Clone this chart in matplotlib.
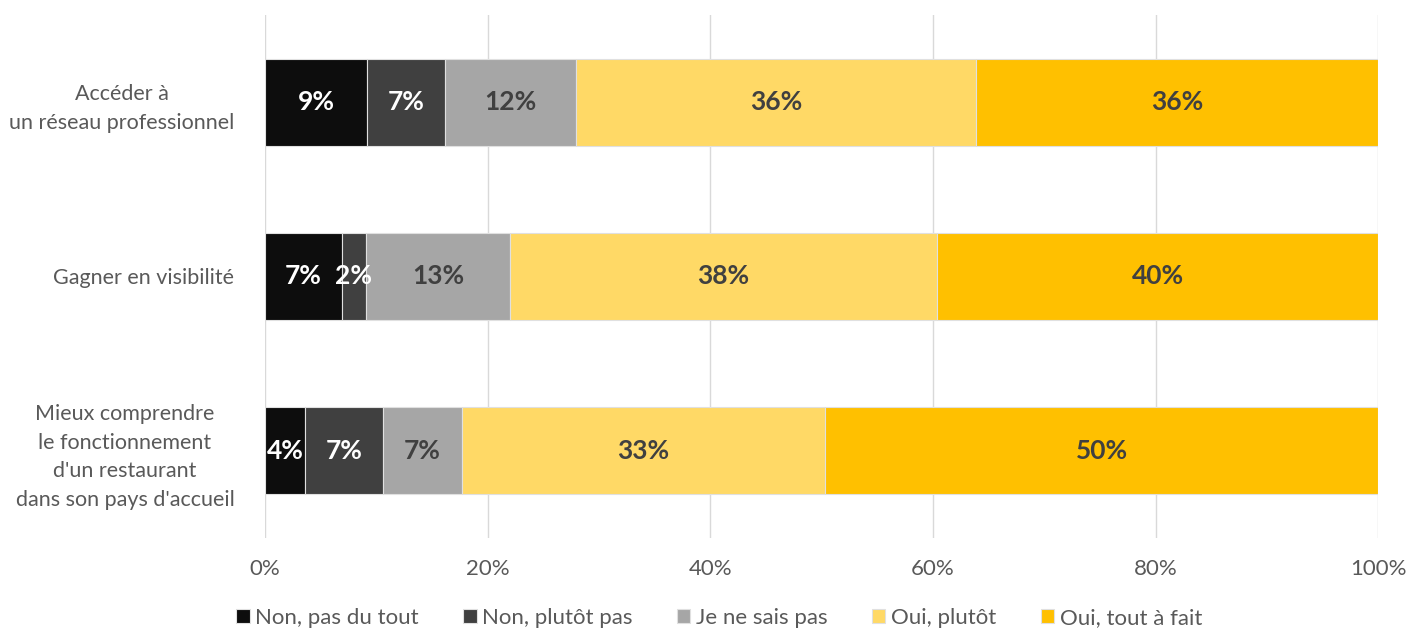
import matplotlib
matplotlib.use('Agg')
import matplotlib.pyplot as plt
import numpy as np

# --- DATA ---
CATEGORIES = [
    "Accéder à\nun réseau professionnel",
    "Gagner en visibilité",
    "Mieux comprendre\nle fonctionnement\nd'un restaurant\ndans son pays d'accueil",
]
SERIES = ["Non, pas du tout", "Non, plutôt pas", "Je ne sais pas", "Oui, plutôt", "Oui, tout à fait"]
# shares in percent, rows follow CATEGORIES
non_pas_du_tout = [9.2, 6.9, 3.6]
non_plutot_pas = [7.0, 2.2, 7.0]
je_ne_sais_pas = [11.7, 12.9, 7.1]
oui_plutot = [36.0, 38.4, 32.6]
oui_tout_a_fait = [36.1, 39.6, 49.7]
# labels as printed on the chart
LABELS = [
    ["9%", "7%", "4%"],
    ["7%", "2%", "7%"],
    ["12%", "13%", "7%"],
    ["36%", "38%", "33%"],
    ["36%", "40%", "50%"],
]
X_TICKS = [0, 20, 40, 60, 80, 100]

COLORS = ["#0d0d0d", "#404040", "#a6a6a6", "#ffd966", "#ffc000"]
TEXT_COLORS = ["white", "white", "#404040", "#404040", "#404040"]

plt.rcParams['font.family'] = ['Liberation Sans Narrow', 'Lato', 'DejaVu Sans']

fig = plt.figure(figsize=(14.24, 6.29), dpi=100)
ax = fig.add_axes([0.186, 0.145, 0.782, 0.831])

values = [non_pas_du_tout, non_plutot_pas, je_ne_sais_pas, oui_plutot, oui_tout_a_fait]
y = np.arange(len(CATEGORIES))
left = np.zeros(len(CATEGORIES))
for i, (name, vals) in enumerate(zip(SERIES, values)):
    vals = np.array(vals)
    bars = ax.barh(y, vals, left=left, height=0.5, color=COLORS[i], label=name,
                   edgecolor="#e0e0e0", linewidth=0.8, zorder=3)
    for j, b in enumerate(bars):
        ax.text(left[j] + vals[j] / 2, y[j], LABELS[i][j], ha="center", va="center",
                color=TEXT_COLORS[i], fontsize=19, fontweight="bold", zorder=4)
    left += vals

ax.set_xlim(0, 100)
ax.set_ylim(2.5, -0.5)
ax.set_xticks(X_TICKS)
ax.set_xticklabels([f"{t}%" for t in X_TICKS])
ax.set_yticks(y)
ax.set_yticklabels(CATEGORIES, multialignment="center", linespacing=1.55)
ax.tick_params(axis="both", length=0, colors="#595959")
ax.tick_params(axis="x", pad=15, labelsize=16)
ax.tick_params(axis="y", pad=22, labelsize=15.5)
for s in ax.spines.values():
    s.set_visible(False)
ax.grid(axis="x", color="#d9d9d9", linewidth=1, zorder=0)

leg = fig.legend(loc="lower center", bbox_to_anchor=(0.505, -0.03), ncol=5, frameon=False,
                 fontsize=16, handlelength=0.6, handleheight=0.6, handletextpad=0.25,
                 columnspacing=2.0, labelcolor="#595959")

plt.savefig("out.png", dpi=100)
